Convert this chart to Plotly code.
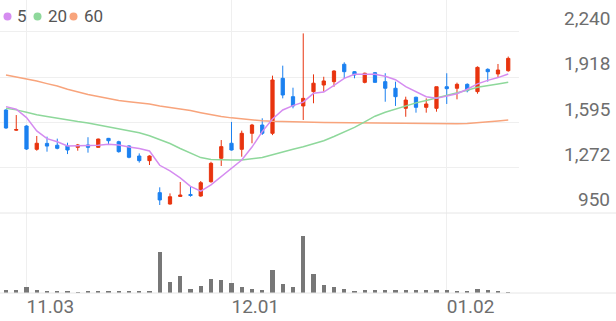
import plotly.graph_objects as go

dates = ["10.30", "10.31",
         "11.03", "11.04", "11.05", "11.06", "11.07", "11.10", "11.11", "11.12", "11.13", "11.14",
         "11.17", "11.18", "11.19", "11.20", "11.21", "11.24", "11.25", "11.26", "11.27", "11.28",
         "12.01", "12.02", "12.03", "12.04", "12.05", "12.08", "12.09", "12.10", "12.11", "12.12",
         "12.15", "12.16", "12.17", "12.18", "12.19", "12.22", "12.23", "12.24", "12.26", "12.29", "12.30",
         "01.02", "01.05", "01.06", "01.07", "01.08", "01.09", "01.12"]

open_ = [1684, 1540, 1570, 1404, 1446, 1433, 1427, 1418, 1435, 1418,
         1482, 1458, 1428, 1356, 1323, 1095, 1014, 1068, 1082, 1071,
         1173, 1340, 1447, 1404, 1518, 1577, 1518, 1910, 1779, 1713,
         1815, 1862, 1886, 2010, 1957, 1881, 1950, 1886, 1839, 1696,
         1775, 1703, 1696, 1850, 1839, 1867, 1815, 1974, 1941, 1964]
high = [1690, 1648, 1575, 1499, 1494, 1480, 1451, 1442, 1490, 1480,
        1485, 1465, 1432, 1375, 1361, 1133, 1090, 1171, 1138, 1178,
        1315, 1470, 1599, 1537, 1585, 1625, 1929, 2000, 1843, 2230,
        1938, 1921, 1967, 2024, 1962, 1950, 1955, 1946, 1886, 1779,
        1779, 1767, 1850, 1946, 1879, 1874, 1995, 1981, 2012, 2065]
low = [1550, 1535, 1400, 1394, 1387, 1404, 1370, 1394, 1380, 1416,
       1435, 1380, 1340, 1309, 1292, 1007, 1010, 1066, 1066, 1066,
       1166, 1285, 1395, 1351, 1447, 1506, 1505, 1767, 1696, 1613,
       1732, 1815, 1850, 1910, 1910, 1874, 1881, 1743, 1713, 1636,
       1665, 1665, 1672, 1727, 1760, 1810, 1800, 1886, 1917, 1957]
close = [1556, 1545, 1406, 1447, 1427, 1411, 1399, 1435, 1418, 1477,
         1465, 1387, 1347, 1323, 1356, 1043, 1066, 1078, 1075, 1166,
         1304, 1423, 1399, 1518, 1577, 1518, 1898, 1791, 1713, 1767,
         1875, 1891, 1962, 1957, 1934, 1946, 1881, 1839, 1779, 1755,
         1703, 1727, 1850, 1836, 1867, 1822, 1988, 1957, 1969, 2052]

volume = [3300, 2700, 5700, 3000, 1700, 1300, 1300, 1000, 1300, 1300,
          1300, 1300, 1300, 1300, 1700, 41000, 11000, 16700, 4300, 6700,
          14300, 13300, 10000, 5700, 4300, 3300, 23000, 9000, 6000, 57700,
          19300, 7700, 5700, 4000, 2300, 2700, 2700, 3300, 3300, 3300,
          2700, 2700, 3000, 3000, 2300, 1700, 4300, 2700, 1300, 700]

ma5 = [1708, 1690, 1630, 1535, 1480, 1458, 1428, 1428, 1428, 1433,
       1440, 1435, 1420, 1410, 1392, 1290, 1250, 1200, 1140, 1105,
       1150, 1210, 1269, 1328, 1420, 1530, 1620, 1684, 1715, 1740,
       1803, 1812, 1860, 1910, 1939, 1939, 1939, 1925, 1900, 1850,
       1815, 1779, 1767, 1784, 1800, 1832, 1870, 1895, 1915, 1941]
ma20 = [1696, 1685, 1668, 1650, 1638, 1625, 1613, 1602, 1592, 1578,
        1565, 1553, 1541, 1522, 1500, 1475, 1445, 1410, 1375, 1345,
        1332, 1328, 1327, 1328, 1335, 1345, 1365, 1387, 1405, 1422,
        1445, 1465, 1495, 1525, 1560, 1600, 1640, 1668, 1690, 1715,
        1735, 1752, 1770, 1786, 1805, 1825, 1846, 1860, 1870, 1882]
ma60 = [1934, 1920, 1905, 1890, 1872, 1855, 1832, 1812, 1795, 1780,
        1765, 1752, 1743, 1735, 1727, 1712, 1703, 1690, 1680, 1665,
        1650, 1638, 1628, 1620, 1613, 1607, 1603, 1600, 1598, 1597,
        1596, 1595, 1594, 1593, 1592, 1591, 1590, 1588, 1587, 1586,
        1585, 1585, 1585, 1585, 1586, 1588, 1592, 1598, 1605, 1612]

ma_names = ["5", "20", "60"]
ma_colors = ["#d58cf0", "#8ed89b", "#f8a47c"]

price_ticks = [950, 1272.5, 1595, 1917.5, 2240]
price_labels = ["950", "1,272", "1,595", "1,918", "2,240"]

x_ticks = ["11.03", "12.01", "01.02"]

RED = "#e8340f"
BLUE = "#1b80f0"
GRID = "#efefef"
TXT = "#6e6e6e"

fig = go.Figure()

for vals, name, col in zip([ma60, ma20, ma5], ma_names[::-1], ma_colors[::-1]):
    fig.add_trace(go.Scatter(x=dates, y=vals, mode="lines", name=name,
                             line=dict(color=col, width=1.5), showlegend=False,
                             xaxis="x", yaxis="y"))

fig.add_trace(go.Candlestick(
    x=dates, open=open_, high=high, low=low, close=close,
    increasing=dict(line=dict(color=RED, width=1), fillcolor=RED),
    decreasing=dict(line=dict(color=BLUE, width=1), fillcolor=BLUE),
    whiskerwidth=0, showlegend=False, xaxis="x", yaxis="y"))

fig.add_trace(go.Bar(x=dates, y=volume, marker=dict(color="#777777", line=dict(width=0)),
                     width=0.4, showlegend=False, xaxis="x2", yaxis="y2"))

W, H = 616, 321
mr = 97
mb = 28
plot_w = W - mr
plot_h = H - mb
split = (H - mb - 213) / (H - mb)
xr = [-0.585, 50.05]

fig.update_layout(
    width=W, height=H,
    margin=dict(l=0, r=mr, t=0, b=mb),
    paper_bgcolor="white", plot_bgcolor="white",
    boxgap=0.55,
    bargap=0,
    showlegend=False,
    xaxis=dict(type="category", range=xr, domain=[0, 1], anchor="y",
               tickvals=x_ticks, showticklabels=False, ticks="",
               showgrid=True, gridcolor=GRID, gridwidth=1, zeroline=False,
               rangeslider=dict(visible=False), showline=False),
    yaxis=dict(domain=[split, 1], range=[950, 2468], anchor="x",
               tickvals=price_ticks, showticklabels=False, ticks="",
               showgrid=True, gridcolor=GRID, gridwidth=1, zeroline=False, showline=False),
    xaxis2=dict(type="category", range=xr, domain=[0, 1], anchor="y2", matches="x",
                tickvals=x_ticks, ticktext=x_ticks, ticks="",
                ticklabelposition="outside right",
                tickfont=dict(family="Roboto", size=19, color=TXT),
                showgrid=True, gridcolor=GRID, gridwidth=1, zeroline=False, showline=False),
    yaxis2=dict(domain=[0, split], range=[0, 80300], anchor="x2",
                showticklabels=False, ticks="", showgrid=False, zeroline=False, showline=False),
)

ext = W / plot_w
fig.add_shape(type="line", xref="paper", yref="y domain", x0=0, x1=ext, y0=0, y1=0,
              line=dict(color="#e6e6e6", width=1))
fig.add_shape(type="line", xref="paper", yref="y2 domain", x0=0, x1=ext, y0=0, y1=0,
              line=dict(color="#e6e6e6", width=1))

for v, lab in zip(price_ticks, price_labels):
    fig.add_annotation(x=(W - 4) / plot_w, xref="paper", y=v, yref="y",
                       text=lab, showarrow=False, xanchor="right", yanchor="bottom",
                       yshift=0, font=dict(family="Roboto", size=19, color=TXT))

# legend: coloured dots + labels
dot_x = [7.5, 37.5, 73.5]
lab_x = [15, 46, 82]
leg_y = 1 - 16.5 / plot_h
for n, c, dx, lx in zip(ma_names, ma_colors, dot_x, lab_x):
    fig.add_shape(type="circle", xref="paper", yref="paper",
                  xsizemode="pixel", ysizemode="pixel",
                  xanchor=dx / plot_w, yanchor=leg_y,
                  x0=-4, x1=4, y0=-4, y1=4,
                  fillcolor=c, line=dict(width=0))
    fig.add_annotation(x=lx / plot_w, xref="paper", y=leg_y, yref="paper",
                       xanchor="left", yanchor="middle", text=n, showarrow=False,
                       font=dict(family="Roboto", size=17, color="#555555"))

fig.write_html("out.html")
